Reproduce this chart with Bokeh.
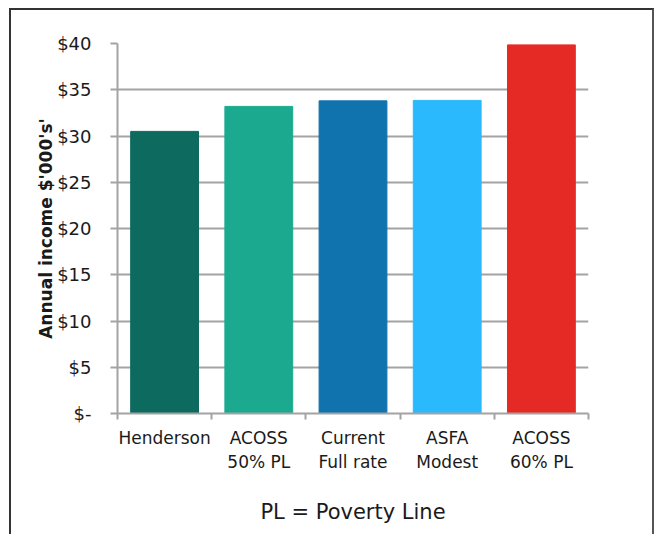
from bokeh.plotting import figure
from bokeh.models import Range1d, FixedTicker, ColumnDataSource
from bokeh.embed import file_html
from bokeh.resources import INLINE

categories = ["Henderson", "ACOSS\n50% PL", "Current\nFull rate", "ASFA\nModest", "ACOSS\n60% PL"]
values = [30.5, 33.2, 33.8, 33.85, 39.85]
colors = ["#0C6A5E", "#1BAA90", "#1173AD", "#2BB9FE", "#E52A25"]
y_ticks = [0, 5, 10, 15, 20, 25, 30, 35, 40]
y_tick_labels = ["$-", "$5", "$10", "$15", "$20", "$25", "$30", "$35", "$40"]
y_label = "Annual income $'000's'"
x_label = "PL = Poverty Line"

FONT = "DejaVu Sans"
TXT = "#1a1a1a"
GRID = "#a3a3a3"

positions = [i + 0.5 for i in range(len(categories))]
src = ColumnDataSource(dict(x=positions, top=values, color=colors))

p = figure(width=645, height=526, output_backend="svg", toolbar_location=None,
           x_range=Range1d(0, len(categories)), y_range=Range1d(0, 40),
           min_border_left=106, min_border_right=68, min_border_top=33, min_border_bottom=123)
p.margin = (8, 0, 0, 9)
p.styles = {"border-top": "2px solid #333", "border-left": "2px solid #333",
            "border-right": "2px solid #555", "box-sizing": "border-box"}

p.vbar(x="x", top="top", width=0.72, bottom=0, fill_color="color", line_color="color", source=src)

p.outline_line_color = None
p.xgrid.grid_line_color = None
p.ygrid.grid_line_color = GRID
p.ygrid.grid_line_width = 2
p.ygrid.ticker = FixedTicker(ticks=y_ticks)

p.yaxis.ticker = FixedTicker(ticks=y_ticks)
p.yaxis.major_label_overrides = {t: l for t, l in zip(y_ticks, y_tick_labels)}
p.yaxis.minor_tick_line_color = None
p.yaxis.major_tick_in = 0
p.yaxis.major_tick_out = 7
p.yaxis.major_tick_line_color = GRID
p.yaxis.major_tick_line_width = 2
p.yaxis.axis_line_color = GRID
p.yaxis.axis_line_width = 2
p.yaxis.major_label_standoff = 19
p.yaxis.major_label_text_font = FONT
p.yaxis.major_label_text_font_size = "18px"
p.yaxis.major_label_text_color = TXT
p.yaxis.axis_label = y_label
p.yaxis.axis_label_text_font = FONT
p.yaxis.axis_label_text_font_style = "bold"
p.yaxis.axis_label_text_font_size = "17px"
p.yaxis.axis_label_text_color = TXT
p.yaxis.axis_label_standoff = -2

p.xaxis.ticker = FixedTicker(ticks=positions, minor_ticks=list(range(len(categories) + 1)))
p.xaxis.major_label_overrides = {pos: c for pos, c in zip(positions, categories)}
p.xaxis.major_tick_line_color = None
p.xaxis.minor_tick_in = 0
p.xaxis.minor_tick_out = 6
p.xaxis.minor_tick_line_color = GRID
p.xaxis.minor_tick_line_width = 2
p.xaxis.axis_line_color = GRID
p.xaxis.axis_line_width = 2
p.xaxis.major_label_standoff = 8
p.xaxis.major_label_text_font = FONT
p.xaxis.major_label_text_font_size = "17px"
p.xaxis.major_label_text_color = TXT
p.xaxis.axis_label = x_label
p.xaxis.axis_label_text_font = FONT
p.xaxis.axis_label_text_font_style = "normal"
p.xaxis.axis_label_text_font_size = "21px"
p.xaxis.axis_label_text_color = TXT
p.xaxis.axis_label_standoff = 25

open("out.html", "w").write(file_html(p, INLINE))
